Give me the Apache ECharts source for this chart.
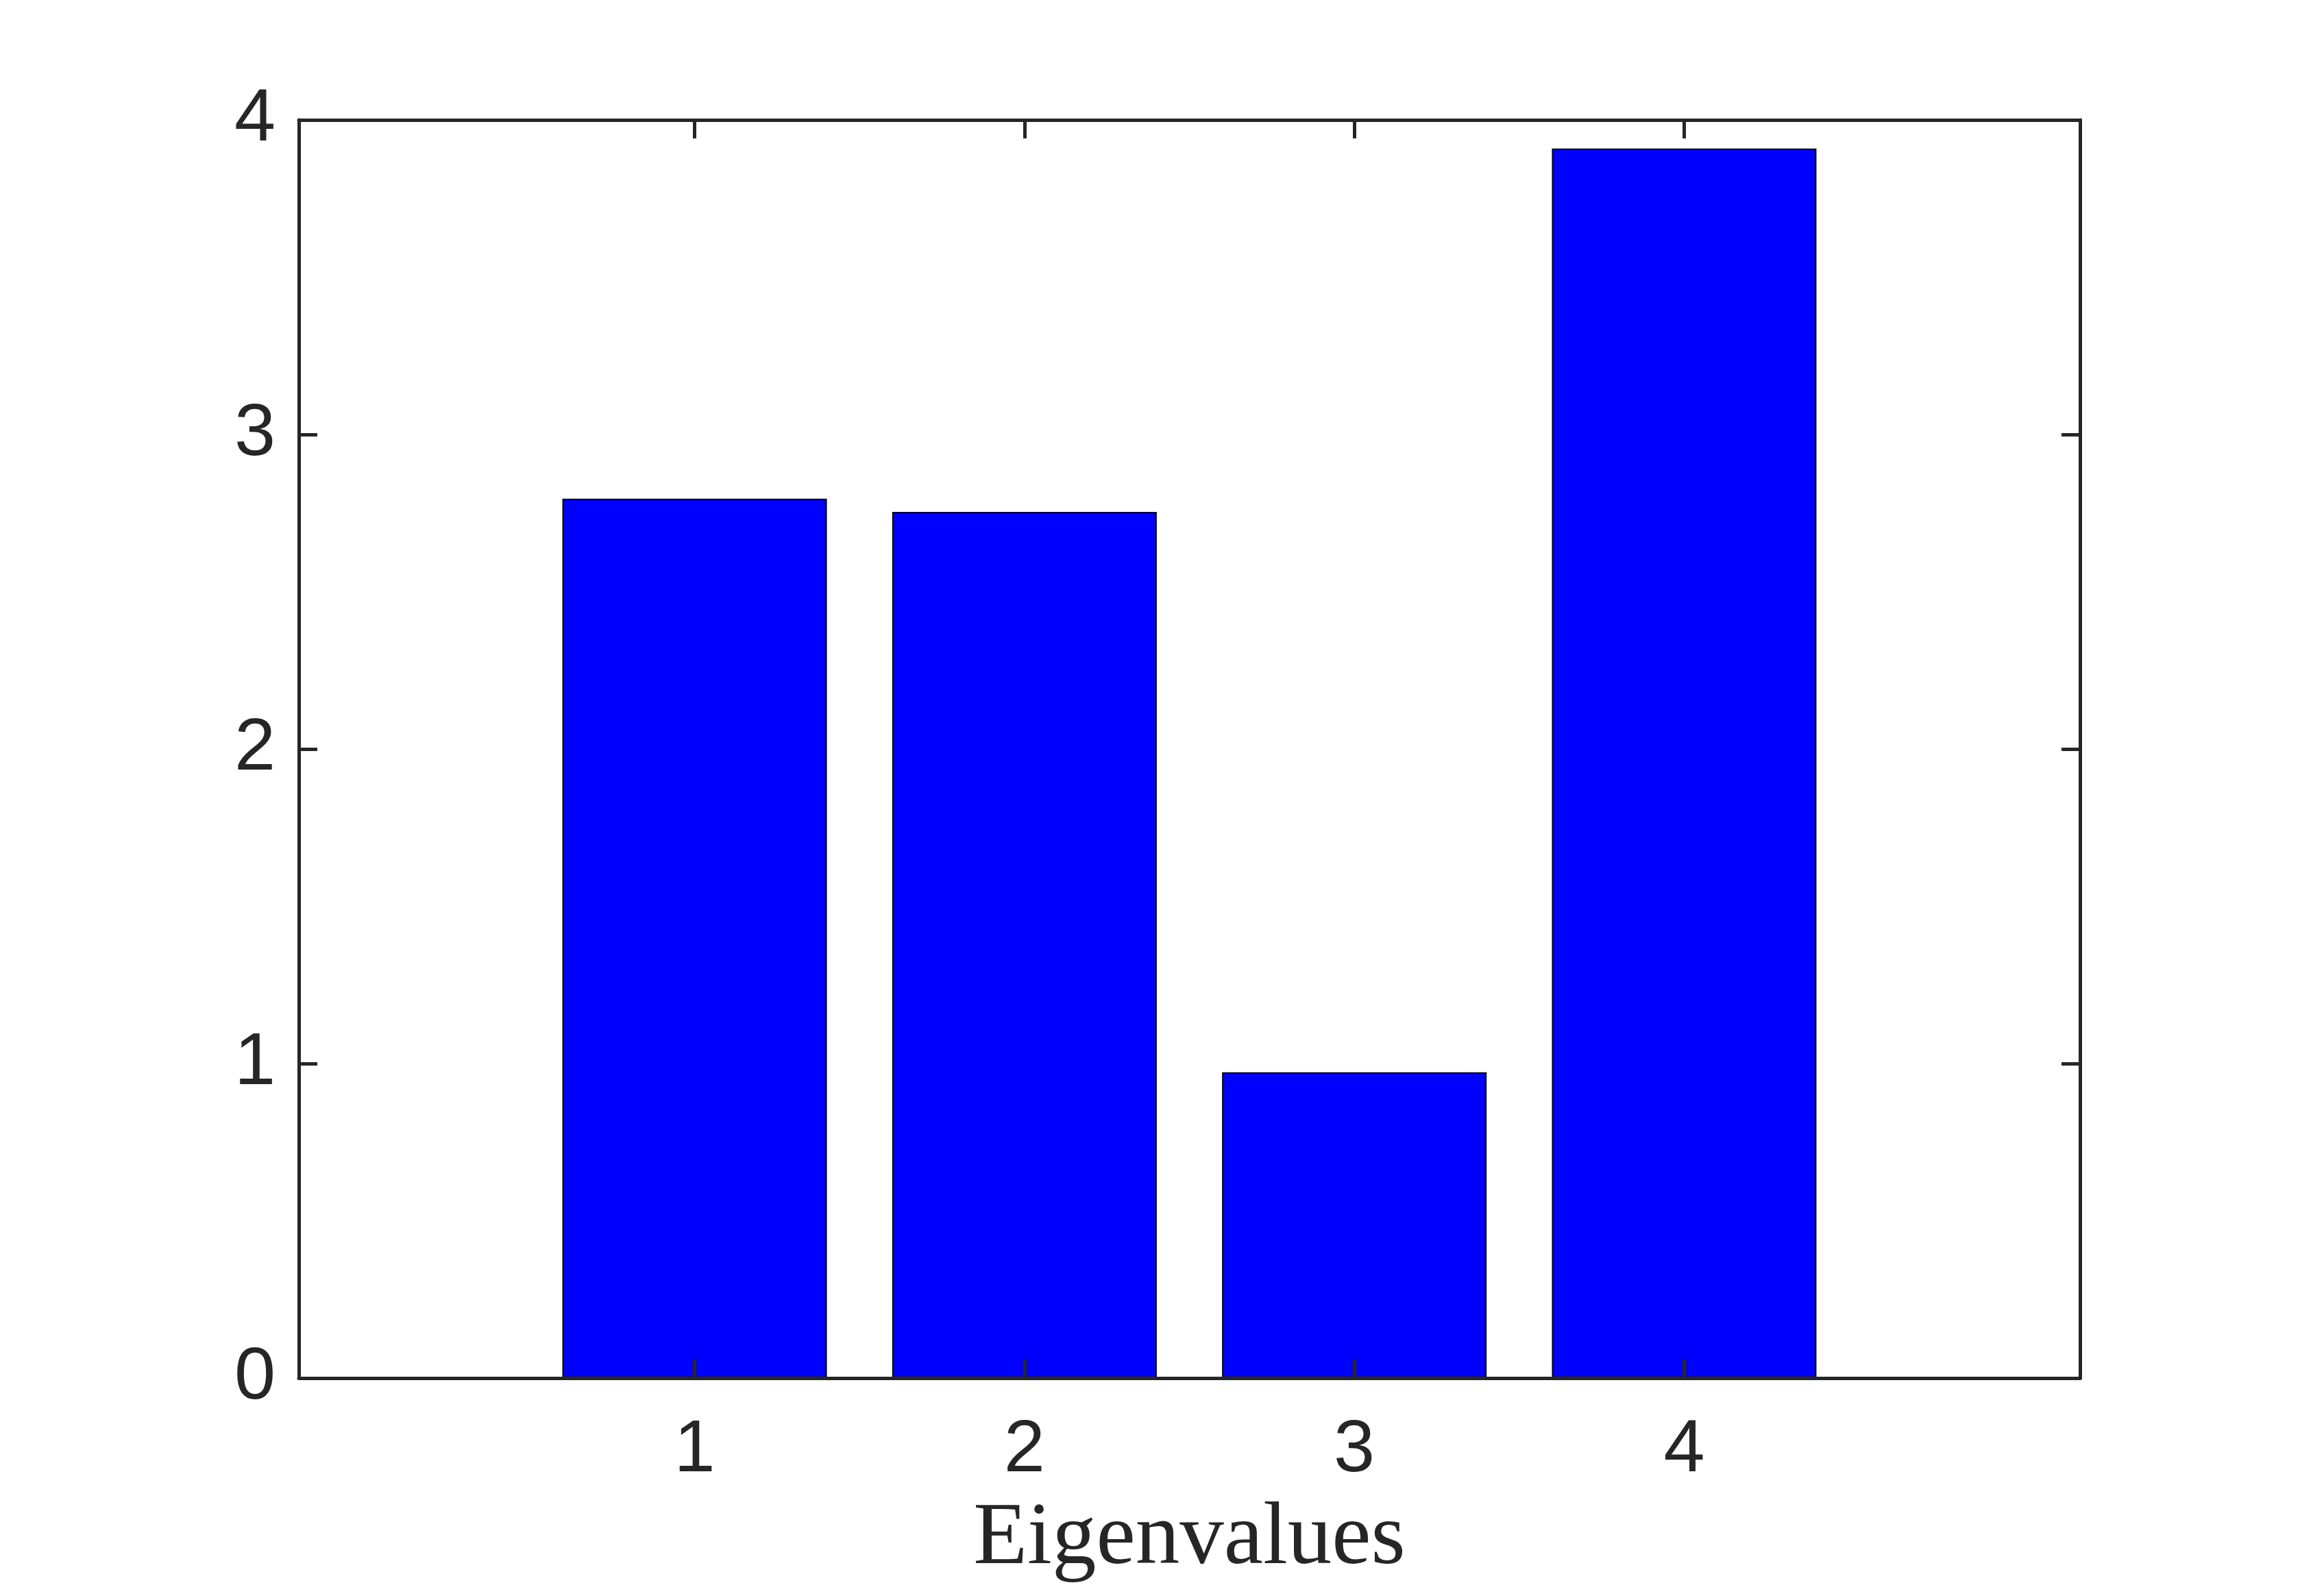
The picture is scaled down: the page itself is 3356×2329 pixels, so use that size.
<!DOCTYPE html>
<html>
<head>
<meta charset="utf-8">
<script src="https://cdn.jsdelivr.net/npm/echarts@6/dist/echarts.min.js"></script>
<style>
html,body{margin:0;padding:0;background:#fff;}
#chart{width:3356px;height:2329px;}
</style>
</head>
<body>
<div id="chart"></div>
<script>
const categories = [1, 2, 3, 4];
const eigenvalues = [2.796, 2.754, 0.972, 3.909];
const yTicks = [0, 1, 2, 3, 4];
const xLabel = 'Eigenvalues';

const axisColor = '#262626';
const chart = echarts.init(document.getElementById('chart'), null, {renderer: 'canvas'});

const baseX = {
  type: 'value', min: -0.2, max: 5.2, z: 10,
  splitLine: {show: false},
  axisLine: {show: true, onZero: false, lineStyle: {color: axisColor, width: 5}},
  axisTick: {show: true, inside: true, length: 27, customValues: categories, lineStyle: {color: axisColor, width: 5}}
};
const baseY = {
  type: 'value', min: 0, max: 4, interval: 1, z: 10,
  splitLine: {show: false},
  axisLine: {show: true, onZero: false, lineStyle: {color: axisColor, width: 5}},
  axisTick: {show: true, inside: true, length: 27, lineStyle: {color: axisColor, width: 5}}
};

chart.setOption({
  backgroundColor: '#ffffff',
  animation: false,
  grid: {left: 436, right: 321, top: 175, bottom: 318, containLabel: false},
  xAxis: [
    Object.assign({}, baseX, {
      position: 'bottom',
      name: xLabel, nameLocation: 'middle', nameGap: 172,
      nameTextStyle: {fontFamily: 'Liberation Serif', fontSize: 129, color: axisColor},
      axisLabel: {show: true, customValues: categories, margin: 52,
        fontFamily: 'Liberation Sans', fontSize: 108, color: axisColor,
        formatter: v => String(v)}
    }),
    Object.assign({}, baseX, {position: 'top', axisLabel: {show: false}})
  ],
  yAxis: [
    Object.assign({}, baseY, {
      position: 'left',
      axisLabel: {show: true, margin: 34, fontFamily: 'Liberation Sans', fontSize: 108, color: axisColor,
        padding: [16, 0, 0, 0],
        customValues: yTicks, formatter: v => String(v)}
    }),
    Object.assign({}, baseY, {position: 'right', axisLabel: {show: false}})
  ],
  series: [{
    type: 'bar',
    xAxisIndex: 0, yAxisIndex: 0,
    data: categories.map((c, i) => [c, eigenvalues[i]]),
    barWidth: 386,
    itemStyle: {color: '#0000ff', borderColor: '#000000', borderWidth: 2},
    z: 2
  }]
});
</script>
</body>
</html>
